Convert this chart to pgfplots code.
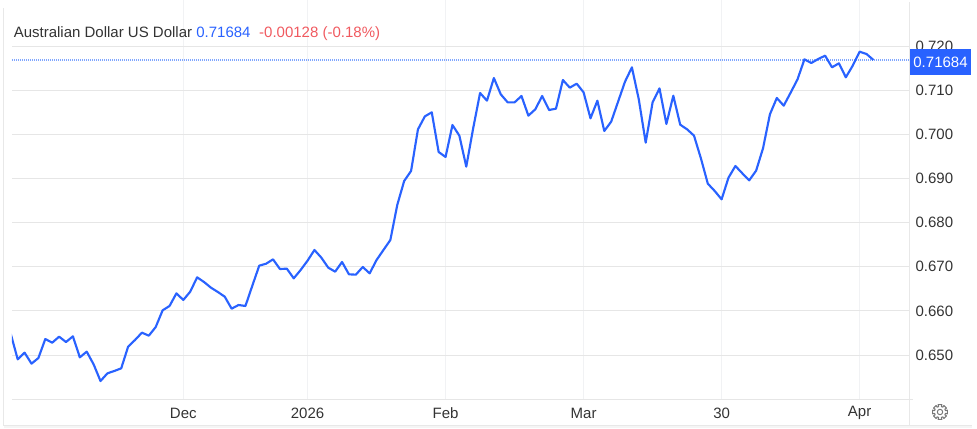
\documentclass[border=0pt]{standalone}
\usepackage{pgfplots}
\pgfplotsset{compat=1.18}
\usepackage{fontspec}
\setmainfont{Liberation Sans}
\definecolor{linebl}{HTML}{2962FF}
\definecolor{dotbl}{HTML}{7FA6FF}
\definecolor{gridh}{HTML}{E6E6E6}
\definecolor{gridv}{HTML}{F1F2F4}
\definecolor{frame}{HTML}{E8E8E8}
\definecolor{txt}{HTML}{333333}
\definecolor{redtxt}{HTML}{F0595F}
\definecolor{geartxt}{HTML}{777777}

\pgfplotstableread{
i v
0 0.65479
1 0.64905
2 0.65056
3 0.64807
4 0.64935
5 0.65365
6 0.65282
7 0.65418
8 0.65297
9 0.65426
10 0.64950
11 0.65079
12 0.64792
13 0.64414
14 0.64588
15 0.64641
16 0.64701
17 0.65192
18 0.65343
19 0.65509
20 0.65441
21 0.65637
22 0.66015
23 0.66113
24 0.66399
25 0.66249
26 0.66437
27 0.66762
28 0.66656
29 0.66528
30 0.66430
31 0.66324
32 0.66052
33 0.66135
34 0.66113
35 0.66573
36 0.67026
37 0.67071
38 0.67169
39 0.66950
40 0.66958
41 0.66739
42 0.66928
43 0.67139
44 0.67381
45 0.67207
46 0.66981
47 0.66890
48 0.67109
49 0.66830
50 0.66822
51 0.66996
52 0.66852
53 0.67154
54 0.67381
55 0.67607
56 0.68400
57 0.68943
58 0.69170
59 0.70113
60 0.70407
61 0.70498
62 0.69600
63 0.69487
64 0.70211
65 0.69970
66 0.69268
67 0.70136
68 0.70936
69 0.70762
70 0.71275
71 0.70906
72 0.70724
73 0.70724
74 0.70868
75 0.70423
76 0.70566
77 0.70868
78 0.70551
79 0.70581
80 0.71230
81 0.71057
82 0.71147
83 0.70951
84 0.70362
85 0.70762
86 0.70075
87 0.70287
88 0.70740
89 0.71192
90 0.71517
91 0.70792
92 0.69811
93 0.70724
94 0.71041
95 0.70234
96 0.70875
97 0.70219
98 0.70113
99 0.69970
100 0.69456
101 0.68883
102 0.68717
103 0.68528
104 0.69019
105 0.69283
106 0.69117
107 0.68958
108 0.69177
109 0.69683
110 0.70453
111 0.70823
112 0.70649
113 0.70943
114 0.71245
115 0.71698
116 0.71615
117 0.71706
118 0.71781
119 0.71517
120 0.71608
121 0.71291
122 0.71555
123 0.71872
124 0.71819
125 0.71684
}\audusd

\begin{document}
\begin{tikzpicture}[x=0.75pt,y=0.75pt]
\useasboundingbox (0,0) rectangle (977,428);
\begin{axis}[
    name=main,
    at={(9pt,21.525pt)},
    anchor=south west,
    scale only axis,
    width=672.98pt,
    height=299.48pt,
    xmin=0.174, xmax=130.2,
    ymin=0.64, ymax=0.73042,
    axis line style={draw=none},
    major tick length=0pt,
    xtick={25,43,63,83,103,123},
    xticklabels={Dec,2026,Feb,Mar,30,Apr},
    ytick={0.64,0.65,0.66,0.67,0.68,0.69,0.70,0.71,0.72},
    yticklabels={,0.650,0.660,0.670,0.680,0.690,0.700,0.710,0.720},
    yticklabel pos=right,
    grid=major,
    x grid style={gridv,line width=0.75pt},
    y grid style={gridh,line width=0.75pt},
    tick label style={font=\fontsize{11.25}{13}\selectfont,text=txt},
    yticklabel style={anchor=west,xshift=1.2pt},
    xticklabel style={anchor=center,yshift=-10.5pt},
]
\addplot[draw=dotbl,line width=1pt,dash pattern=on 0.75pt off 0.75pt,forget plot] coordinates {(0.174,0.71684) (130.2,0.71684)};
\addplot[linebl,line width=1.6pt,line join=round,no markers] table[x=i,y=v] {\audusd};
\end{axis}
\fill[gray!8] (3.5,0) rectangle (971.7,3);
\draw[frame,line width=0.75pt] (3.5,420) -- (3.5,3) -- (971.7,3);
\draw[frame,line width=0.75pt] (909.3,426) -- (909.3,3);
\draw[gridh,line width=0.75pt] (909.3,28.7) -- (913,28.7);
\fill[linebl] (910,353) rectangle (971,379);
\node[anchor=center,text=white,font=\fontsize{11.25}{13}\selectfont] at (940.5,366) {0.71684};
\node[anchor=base west,inner sep=0pt,font=\fontsize{11.25}{13}\selectfont] at (13.5,390) {\textcolor{txt}{Australian Dollar US Dollar} \textcolor{linebl}{0.71684}\hspace{6.5pt}\textcolor{redtxt}{-0.00128 (-0.18\%)}};
% settings gear
\draw[geartxt,line width=0.75pt,line join=round,shift={(940,16)}]
  (-14:7.6) \foreach \a in {0,45,...,315}{ -- (\a-14:7.6) -- (\a+14:7.6) -- (\a+14.5:5.6) -- (\a+30.5:5.6)} -- cycle
  (0,0) circle[radius=2.7];
\end{tikzpicture}
\end{document}
